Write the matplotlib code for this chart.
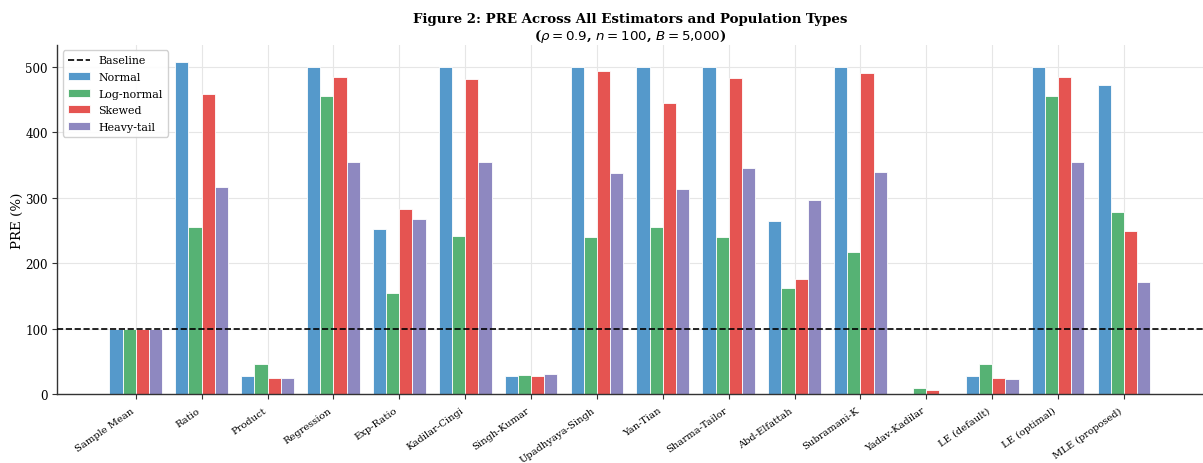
import numpy as np
import matplotlib
matplotlib.use("Agg")
import matplotlib.pyplot as plt

plt.rcParams['font.family'] = ['DejaVu Serif']
plt.rcParams['mathtext.fontset'] = 'dejavusans'

estimators = [
    "Sample Mean", "Ratio", "Product", "Regression", "Exp-Ratio",
    "Kadilar-Cingi", "Singh-Kumar", "Upadhyaya-Singh", "Yan-Tian",
    "Sharma-Tailor", "Abd-Elfattah", "Subramani-K", "Yadav-Kadilar",
    "LE (default)", "LE (optimal)", "MLE (proposed)",
]

pre_normal = [100, 508, 28, 500, 252, 500, 28, 500, 500, 500, 264, 500, 0, 28, 500, 473]
pre_lognormal = [100, 255, 47, 455, 155, 242, 29, 240, 255, 240, 163, 217, 9, 47, 455, 279]
pre_skewed = [100, 459, 25, 484, 283, 481, 28, 494, 445, 483, 176, 491, 6, 25, 485, 249]
pre_heavy = [100, 317, 25, 355, 267, 355, 31, 338, 314, 346, 297, 340, 0, 24, 354, 171]

series_names = ["Normal", "Log-normal", "Skewed", "Heavy-tail"]
series_colors = ["#5599CB", "#56B274", "#E55451", "#8E88C0"]
baseline = 100

fig = plt.figure(figsize=(12.03, 4.64), dpi=100)
ax = fig.add_axes([0.0477, 0.148, 0.9523, 0.753])

x = np.arange(len(estimators))
width = 0.2
all_series = [pre_normal, pre_lognormal, pre_skewed, pre_heavy]
ax.axhline(baseline, color="black", linestyle="--", linewidth=1.2, label="Baseline", zorder=3)
for i, (vals, name, col) in enumerate(zip(all_series, series_names, series_colors)):
    ax.bar(x + (i - 1.5) * width, vals, width, label=name, color=col,
           edgecolor="white", linewidth=0.6, zorder=2)

ax.set_xticks(x)
ax.set_xticklabels(estimators, rotation=35, ha="right", fontsize=7.1)
ax.tick_params(axis="y", labelsize=8.6)
ax.tick_params(axis="x", length=3.5, width=0.8, color="#333333", pad=4.5)
ax.tick_params(axis="y", length=3.5, width=0.8, color="#333333")
ax.set_xlim(-1.19, 16.2)
ax.set_ylim(0, 533.5)
ax.set_ylabel("PRE (%)", fontsize=9.6, labelpad=1)
ax.set_title("Figure 2: PRE Across All Estimators and Population Types\n"
             r"($\rho = 0.9$, $n = 100$, $B = 5{,}000$)",
             fontsize=9.6, fontweight="bold", pad=4)

ax.grid(True, color="#e6e6e6", linewidth=0.8)
ax.set_axisbelow(True)
for side in ("top", "right"):
    ax.spines[side].set_visible(False)
for side in ("left", "bottom"):
    ax.spines[side].set_color("#333333")
    ax.spines[side].set_linewidth(1.0)

leg = ax.legend(loc="upper left", fontsize=7.9, frameon=True, framealpha=0.9,
                edgecolor="#cccccc", handlelength=2.0, borderpad=0.45,
                labelspacing=0.6)

fig.savefig("out.png", dpi=100)
